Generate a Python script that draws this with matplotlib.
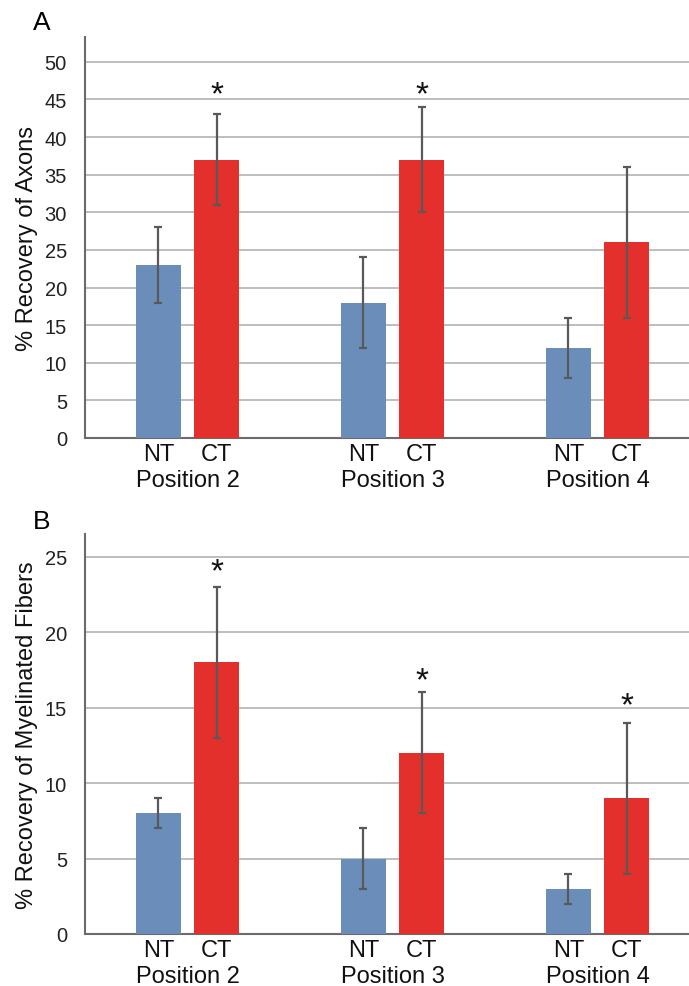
import matplotlib
matplotlib.use("Agg")
import matplotlib.pyplot as plt
import numpy as np

positions = ["Position 2", "Position 3", "Position 4"]
groups = ["NT", "CT"]

# Panel A: % Recovery of Axons
axons_nt = [23, 18, 12]
axons_ct = [37, 37, 26]
axons_nt_err = [5, 6, 4]
axons_ct_err = [6, 7, 10]
axons_star = [47, 47, None]

# Panel B: % Recovery of Myelinated Fibers
myel_nt = [8, 5, 3]
myel_ct = [18, 12, 9]
myel_nt_err = [1, 2, 1]
myel_ct_err = [5, 4, 5]
myel_star = [24.7, 17.5, 15.8]

BLUE = "#6B8DBA"
RED = "#E3302C"
ERR = "#595959"
GRID = "#B3B3B3"
SPINE = "#6B6B6B"

main_font = ["Liberation Sans", "DejaVu Sans"]
tick_font = ["Liberation Sans", "DejaVu Sans"]

fig = plt.figure(figsize=(6.89, 9.87), dpi=100)
W, H = 689, 987


def make_axes(left_px, top_px, bottom_px, right_px):
    return fig.add_axes([left_px / W, 1 - bottom_px / H,
                         (right_px - left_px) / W, (bottom_px - top_px) / H])


def draw_panel(ax, nt, ct, nt_err, ct_err, stars, ymax, ytop, ystep, ylabel):
    x = np.arange(len(positions))
    off = 0.142
    w = 0.22
    ax.bar(x - off, nt, w, color=BLUE, zorder=3)
    ax.bar(x + off, ct, w, color=RED, zorder=3)
    ax.errorbar(x - off, nt, yerr=nt_err, fmt="none", ecolor=ERR, elinewidth=1.6,
                capsize=3, capthick=1.6, zorder=4)
    ax.errorbar(x + off, ct, yerr=ct_err, fmt="none", ecolor=ERR, elinewidth=1.6,
                capsize=3, capthick=1.6, zorder=4)
    fs = 24
    for i, s in enumerate(stars):
        if s is not None:
            ax.annotate("*", (x[i] + off, s), xytext=(0, -0.57 * fs),
                        textcoords="offset points", ha="center", va="baseline",
                        fontsize=fs, family=main_font, color="#111111", zorder=5)
    ax.set_xlim(-0.5, len(positions) - 0.5)
    ax.set_ylim(0, ytop)
    ticks = np.arange(0, ymax + 0.1, ystep)
    ax.set_yticks(ticks)
    ax.set_yticklabels([f"{int(v)}" for v in ticks], family=tick_font, fontsize=14.5)
    ax.yaxis.grid(True, color=GRID, linewidth=1.2, zorder=0)
    ax.set_axisbelow(True)
    ax.tick_params(axis="y", length=0, pad=13, colors="#222222")
    ax.set_xticks(np.concatenate([x - off, x + off]))
    ax.set_xticklabels(["NT"] * len(x) + ["CT"] * len(x), family=main_font, fontsize=17)
    ax.set_xticks(x, minor=True)
    ax.set_xticklabels(positions, minor=True, family=main_font, fontsize=17)
    ax.tick_params(axis="x", which="major", length=0, pad=3.5, colors="#111111")
    ax.tick_params(axis="x", which="minor", length=0, pad=22, colors="#111111")
    for side in ["top", "right"]:
        ax.spines[side].set_visible(False)
    for side in ["left", "bottom"]:
        ax.spines[side].set_color(SPINE)
        ax.spines[side].set_linewidth(1.5)
    ax.set_ylabel(ylabel, family=main_font, fontsize=17, color="#111111")
    ax.yaxis.set_label_coords((38 - 85) / 615, 0.5)


axA = make_axes(85, 38, 439, 700)
draw_panel(axA, axons_nt, axons_ct, axons_nt_err, axons_ct_err, axons_star,
           50, 53.3, 5, "% Recovery of Axons")

axB = make_axes(85, 535, 935, 700)
draw_panel(axB, myel_nt, myel_ct, myel_nt_err, myel_ct_err, myel_star,
           25, 26.5, 5, "% Recovery of Myelinated Fibers")

fig.text(33 / W, 1 - 23 / H, "A", fontsize=19, family=main_font, va="center", ha="left")
fig.text(33 / W, 1 - 522 / H, "B", fontsize=19, family=main_font, va="center", ha="left")

fig.savefig("out.png", dpi=100)
